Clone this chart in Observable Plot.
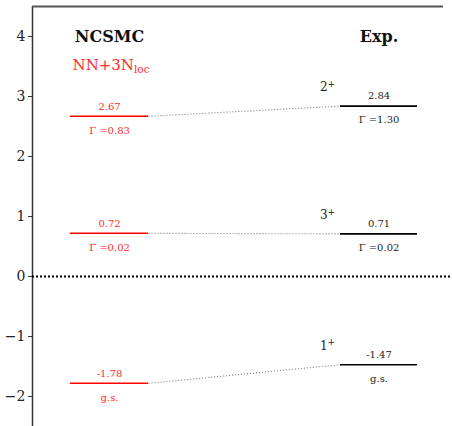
<!DOCTYPE html>
<html><head><meta charset="utf-8">
<script src="https://cdn.jsdelivr.net/npm/d3@7"></script>
<script src="https://cdn.jsdelivr.net/npm/@observablehq/plot@0.6"></script>
<style>
body{margin:0;background:#fff}
svg, svg text, svg tspan { font-family: "DejaVu Serif" !important; }
</style>
</head><body><div id="chart"></div>
<script>
// ---- data ----
const spins = ["1", "3", "2"];                // J (parity +)
const ncsmcEnergies = [-1.78, 0.72, 2.67];
const ncsmcNotes = ["g.s.", "Γ =0.02", "Γ =0.83"];
const expEnergies = [-1.47, 0.71, 2.84];
const expNotes = ["g.s.", "Γ =0.02", "Γ =1.30"];
const columnTitles = ["NCSMC", "Exp."];
const interactionLabel = "NN+3N_loc";
const yTicks = [-2, -1, 0, 1, 2, 3, 4];

const levels = spins.map((s, i) => ({
  spin: s, th: ncsmcEnergies[i], thNote: ncsmcNotes[i],
  ex: expEnergies[i], exNote: expNotes[i]
}));

// ---- layout (x in px-like units) ----
const TH0 = 70, TH1 = 148, EX0 = 340, EX1 = 417;
const thC = (TH0 + TH1) / 2, exC = (EX0 + EX1) / 2;
const RED = "#ff0000";
const RED_TEXT = "#ff2a2a";

const chart = Plot.plot({
  width: 452, height: 426,
  marginLeft: 32, marginRight: 0, marginTop: 6, marginBottom: 0,
  style: {background: "#fff"},
  x: {domain: [32, 452], axis: null},
  y: {domain: [-2.5, 4.5], axis: null},
  marks: [
    Plot.axisY({ticks: yTicks, tickSize: 4, tickPadding: 3, fontSize: 14, stroke: "#333", fill: "#222",
      tickFormat: d => (d < 0 ? "\u2212" + Math.abs(d) : String(d))}),
    Plot.ruleX([32], {stroke: "#333", strokeWidth: 1.5}),
    Plot.ruleY([4.5], {x1: 32, x2: 443, stroke: "#555", strokeWidth: 2}),
    Plot.ruleY([0], {stroke: "#000", strokeWidth: 2, strokeDasharray: "2,2"}),
    Plot.link(levels, {x1: TH1, y1: "th", x2: EX0, y2: "ex", stroke: "#777", strokeWidth: 1.1, strokeDasharray: "1,2"}),
    Plot.ruleY(levels, {y: "th", x1: TH0, x2: TH1, stroke: RED, strokeWidth: 1.6}),
    Plot.ruleY(levels, {y: "ex", x1: EX0, x2: EX1, stroke: "#000", strokeWidth: 1.6}),
    Plot.text(levels, {x: thC, y: "th", text: d => d.th.toFixed(2), dy: -10, fill: RED_TEXT, fontSize: 10}),
    Plot.text(levels, {x: thC, y: "th", text: "thNote", dy: 14, fill: RED_TEXT, fontSize: 10}),
    Plot.text(levels, {x: exC, y: "ex", text: d => d.ex.toFixed(2), dy: -10, fill: "#222", fontSize: 10}),
    Plot.text(levels, {x: exC, y: "ex", text: "exNote", dy: 14, fill: "#222", fontSize: 10}),
    Plot.text(levels, {x: 327, y: "ex", text: d => d.spin + "^+", dy: -19, fill: "#222", fontSize: 12}),
    Plot.text([columnTitles[0]], {x: thC, y: 4.0, text: d => d, fontSize: 16, fontWeight: "bold", fill: "#111"}),
    Plot.text([columnTitles[1]], {x: exC, y: 4.0, text: d => d, fontSize: 16, fontWeight: "bold", fill: "#111"}),
    Plot.text([interactionLabel], {x: 72, y: 3.52, text: d => d, textAnchor: "start", fontSize: 15, fill: RED_TEXT})
  ]
});

// superscripts / subscripts
d3.select(chart).selectAll("text").each(function() {
  const t = this.textContent;
  let m;
  if ((m = t.match(/^(\d)\^\+$/))) {
    const el = d3.select(this); el.text("");
    el.append("tspan").text(m[1]);
    el.append("tspan").attr("dy", "-0.45em").attr("font-size", "9").text("+");
  } else if ((m = t.match(/^(.*)_(.*)$/))) {
    const el = d3.select(this); el.text("");
    el.append("tspan").text(m[1]);
    el.append("tspan").attr("dy", "0.3em").attr("font-size", "10.5").text(m[2]);
  }
});

document.getElementById("chart").appendChild(chart);
</script>
</body></html>
